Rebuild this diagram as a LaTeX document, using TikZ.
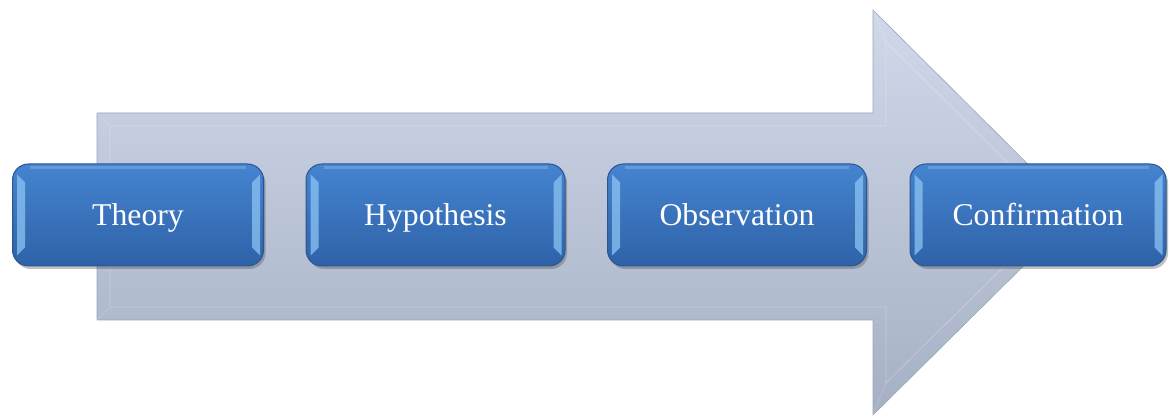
\documentclass[tikz,border=0pt]{standalone}
\usepackage{fontspec}
\setmainfont{Liberation Serif}
\usetikzlibrary{shadows,calc}
\definecolor{boxtop}{HTML}{4584D0}
\definecolor{boxbot}{HTML}{2E62A8}
\definecolor{boxedge}{HTML}{2A5590}
\definecolor{bevel}{HTML}{8CC4F4}
\definecolor{arrtop}{HTML}{D0D9EA}
\definecolor{arrbot}{HTML}{A6B0C4}
\definecolor{arredge}{HTML}{9AA6BC}
\tikzset{
  x=1pt,y=1pt,
  stepbox/.style={rectangle, rounded corners=16pt, minimum width=256pt, minimum height=102pt,
    inner sep=0pt, text height=21pt, text depth=0pt,
    top color=boxtop, bottom color=boxbot, draw=boxedge, line width=1pt,
    drop shadow={shadow xshift=2pt, shadow yshift=-3pt, opacity=0.35, fill=black!70},
    text=white, font=\fontsize{31.7}{38}\selectfont},
  bevelstrip/.style={fill=bevel, opacity=0.75},
  bigarrow/.style={top color=arrtop, bottom color=arrbot, draw=arredge, line width=0.6pt}
}
\begin{document}
\begin{tikzpicture}
\useasboundingbox (0,0) rectangle (1171,418);
% big arrow
\draw[bigarrow] (97,305) coordinate (a1) -- (873,305) coordinate (a2) -- (873,408) coordinate (a3)
  -- (1077,205) coordinate (tip) -- (873,3) coordinate (a5) -- (873,98) coordinate (a6)
  -- (97,98) coordinate (a7) -- cycle;
% inner bevel of arrow
\draw[white, opacity=0.25, line width=0.8pt] (110,292) -- (886,292) -- (886,376) -- (1058,205) -- (886,35) -- (886,111) -- (110,111) -- cycle;
\draw[white, opacity=0.2, line width=0.6pt] (97,305) -- (110,292) (873,408) -- (886,376) (1077,205) -- (1058,205) (873,3) -- (886,35) (97,98) -- (110,111);
% step boxes
\node[stepbox, minimum width=251pt] (theory) at (138,203) {Theory};
\node[stepbox, minimum width=259pt] (hyp) at (435.5,203) {Hypothesis};
\node[stepbox, minimum width=259pt] (obs) at (737,203) {Observation};
\node[stepbox, minimum width=256pt] (conf) at (1038,203) {Confirmation};
% bevel strips
\foreach \n in {theory,hyp,obs,conf}{
  \fill[bevelstrip] ($(\n.north west)+(5,-11)$) -- ($(\n.north west)+(13,-19)$) -- ($(\n.south west)+(13,19)$) -- ($(\n.south west)+(5,11)$) -- cycle;
  \fill[bevelstrip] ($(\n.north east)+(-4,-11)$) -- ($(\n.north east)+(-12,-19)$) -- ($(\n.south east)+(-12,19)$) -- ($(\n.south east)+(-4,11)$) -- cycle;
  \draw[white, opacity=0.18, line width=3pt] ($(\n.north west)+(18,-4)$) -- ($(\n.north east)+(-18,-4)$);
}
\end{tikzpicture}
\end{document}
